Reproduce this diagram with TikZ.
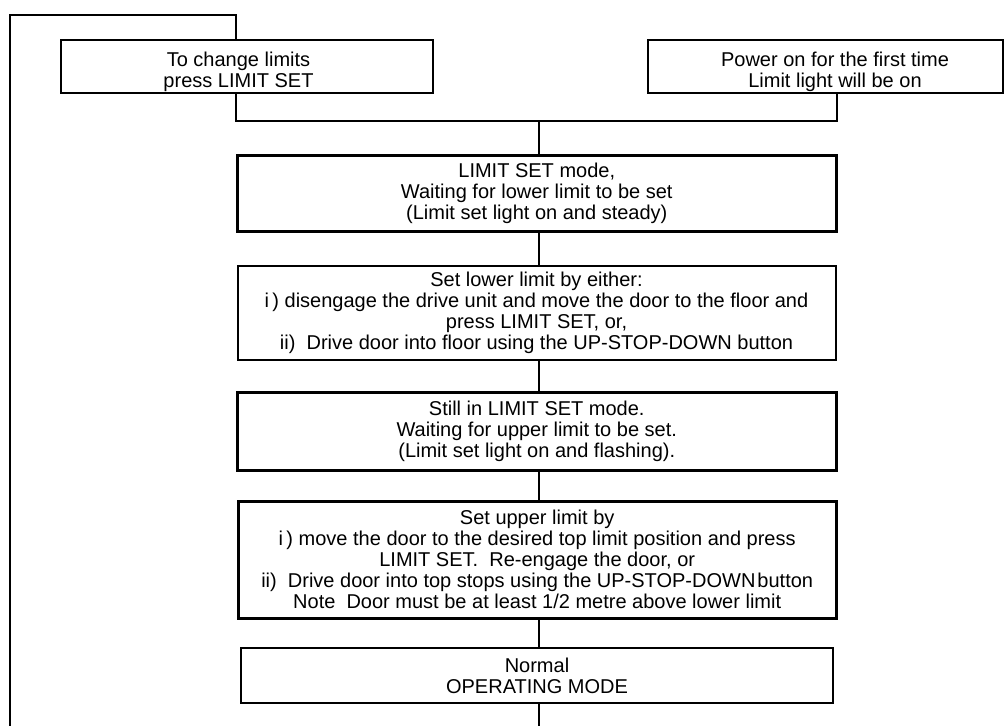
\documentclass[tikz,border=0pt]{standalone}
\usepackage{fontspec}
\setmainfont{Liberation Sans}
\begin{document}
\begin{tikzpicture}[x=1pt,y=-1pt,
  thinbox/.style={draw, line width=2pt, inner sep=0pt, align=center,
    font=\fontsize{20}{21}\selectfont},
  thickbox/.style={thinbox, line width=3pt},
  lbl/.style={inner sep=0pt, align=center, font=\fontsize{20}{21}\selectfont},
  link/.style={line width=2pt}]
\useasboundingbox (0,0) rectangle (1005,726);

% top boxes
\node[thinbox, minimum width=372pt, minimum height=53.5pt] (tl) at (247,66.25) {};
\node[lbl] (tltext) at (238.5,71.5) {To change limits\\press LIMIT SET};
\node[thinbox, minimum width=355pt, minimum height=53.5pt] (tr) at (825.5,66.25) {};
\node[lbl] (trtext) at (835,71.5) {Power on for the first time\\Limit light will be on};

% main column
\node[thickbox, minimum width=598.5pt, minimum height=76.5pt] (b1) at (536.75,193.25)
  {LIMIT SET mode,\\Waiting for lower limit to be set\\(Limit set light on and steady)};
\node[thinbox, minimum width=598pt, minimum height=94pt] (b2) at (536.5,313)
  {Set lower limit by either:\\
   i\,) disengage the drive unit and move the door to the floor and\\
   press LIMIT SET, or,\\
   ii)\ \ Drive door into floor using the UP-STOP-DOWN button};
\node[thickbox, minimum width=598.5pt, minimum height=78pt] (b3) at (536.75,431)
  {Still in LIMIT SET mode.\\Waiting for upper limit to be set.\\(Limit set light on and flashing).};
\node[thickbox, minimum width=597.7pt, minimum height=117.3pt] (b4) at (537.2,559.7)
  {Set upper limit by\\
   i\,) move the door to the desired top limit position and press\\
   LIMIT SET.\ \ Re-engage the door, or\\
   ii)\ \ Drive door into top stops using the UP-STOP-DOWN\hspace{2pt}button\\
   Note\ \ Door must be at least 1/2 metre above lower limit};
\node[thinbox, minimum width=592.6pt, minimum height=54.4pt] (b5) at (537,675.5)
  {Normal\\OPERATING MODE};

% helper coordinates
\coordinate (cL) at (235.7,15);
\coordinate (cLL) at (10,15);
\coordinate (cbotL) at (10,727);
\coordinate (jL) at (235.7,120.7);
\coordinate (jR) at (836.7,120.7);
\coordinate (jC) at (539.3,120.7);
\coordinate (cbotC) at (539.3,727);

% connectors
\draw[link] (cL |- tl.north) -- (cL) -- (cLL) -- (cbotL);
\draw[link] (jL |- tl.south) -- (jL) -- (jR) -- (jR |- tr.south);
\draw[link] (jC) -- (jC |- b1.north);
\draw[link] (jC |- b1.south) -- (jC |- b2.north);
\draw[link] (jC |- b2.south) -- (jC |- b3.north);
\draw[link] (jC |- b3.south) -- (jC |- b4.north);
\draw[link] (jC |- b4.south) -- (jC |- b5.north);
\draw[link] (jC |- b5.south) -- (cbotC);
\end{tikzpicture}
\end{document}
